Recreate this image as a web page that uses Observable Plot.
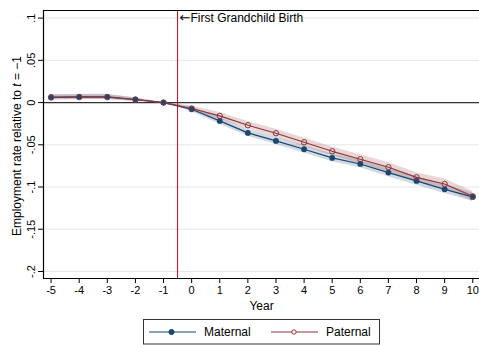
<!DOCTYPE html>
<html>
<head>
<meta charset="utf-8">
<script src="https://cdn.jsdelivr.net/npm/d3@7"></script>
<script src="https://cdn.jsdelivr.net/npm/@observablehq/plot@0.6"></script>
<style>
  body { margin: 0; background: #fff; font-family: "Liberation Sans", Arial, sans-serif; }
  #chart { width: 479px; height: 345px; }
  #chart svg { display: block; }
</style>
</head>
<body>
<div id="chart"></div>
<script>
// Event-study estimates: employment rate relative to t = -1, by grandparent line
const years = [-5, -4, -3, -2, -1, 0, 1, 2, 3, 4, 5, 6, 7, 8, 9, 10];
const maternal = [0.0064, 0.0068, 0.0068, 0.0036, 0, -0.0079, -0.0217, -0.0359, -0.0454, -0.0553, -0.0655, -0.0727, -0.0829, -0.0928, -0.1027, -0.1117];
const paternal = [0.0060, 0.0064, 0.0064, 0.0034, 0, -0.0070, -0.0158, -0.0269, -0.0363, -0.0470, -0.0577, -0.0671, -0.0766, -0.0885, -0.0964, -0.1110];
// 95% confidence interval half-widths
const maternalCI = [0.003, 0.003, 0.003, 0.002, 0, 0.003, 0.004, 0.004, 0.0042, 0.0045, 0.0045, 0.0045, 0.0048, 0.005, 0.005, 0.005];
const paternalCI = [0.003, 0.003, 0.003, 0.002, 0, 0.003, 0.004, 0.0045, 0.0048, 0.005, 0.005, 0.0052, 0.0055, 0.0055, 0.0058, 0.006];

const seriesNames = ["Maternal", "Paternal"];
const seriesColors = ["#1a476f", "#90353b"];

const xTicks = [-5, -4, -3, -2, -1, 0, 1, 2, 3, 4, 5, 6, 7, 8, 9, 10];
const xTickLabels = ["-5", "-4", "-3", "-2", "-1", "0", "1", "2", "3", "4", "5", "6", "7", "8", "9", "10"];
const yTicks = [0.1, 0.05, 0, -0.05, -0.1, -0.15, -0.2];
const yTickLabels = [".1", ".05", "0", "-.05", "-.1", "-.15", "-.2"];

const eventYear = -0.5;
const eventArrow = "\u2190";
const eventLabel = "First Grandchild Birth";
const xTitle = "Year";

// Build the long-format table from the arrays
const series = [maternal, paternal];
const cis = [maternalCI, paternalCI];
const rows = seriesNames.flatMap((name, s) =>
  years.map((t, i) => ({
    series: name,
    year: t,
    b: series[s][i],
    lo: series[s][i] - cis[s][i],
    hi: series[s][i] + cis[s][i]
  }))
);

const xDomain = [-5.27, 10.24];
const yDomain = [-0.2083, 0.109];
const font = "'Liberation Sans', Arial, sans-serif";

const plot = Plot.plot({
  width: 479,
  height: 312,
  marginTop: 10,
  marginLeft: 43,
  marginRight: 0,
  marginBottom: 34,
  style: { fontFamily: font, fontSize: "11px", color: "#000", background: "#fff", overflow: "visible" },
  x: { domain: xDomain },
  y: { domain: yDomain },
  color: { domain: seriesNames, range: seriesColors },
  marks: [
    // horizontal grid
    Plot.ruleY(yTicks, { stroke: "#e6e6e6", strokeWidth: 1 }),
    // confidence bands
    Plot.areaY(rows, { x: "year", y1: "lo", y2: "hi", z: "series", fill: "series", fillOpacity: 0.2 }),
    // reference line at zero
    Plot.ruleY([0], { stroke: "#333", strokeWidth: 1.2 }),
    // event marker
    Plot.ruleX([eventYear], { stroke: "#d2001a", strokeWidth: 1 }),
    Plot.text([eventArrow + eventLabel], { x: eventYear, y: yTicks[0], text: d => d, textAnchor: "start", dx: 2, fontSize: 12, fill: "#000" }),
    // series lines and markers
    Plot.lineY(rows, { x: "year", y: "b", z: "series", stroke: "series", strokeWidth: 1.2 }),
    Plot.dot(rows.filter(d => d.series === "Maternal"), { x: "year", y: "b", r: 2.9, fill: "series", stroke: "none" }),
    Plot.dot(rows.filter(d => d.series === "Paternal"), { x: "year", y: "b", r: 2.7, fill: "none", stroke: "series", strokeWidth: 1 }),
    // axes
    Plot.axisX({ ticks: xTicks, tickFormat: d => xTickLabels[xTicks.indexOf(d)], tickSize: 5, tickPadding: 3, label: null, fontSize: 11 }),
    Plot.axisY({ ticks: yTicks, tickSize: 5, tickFormat: () => "", label: null }),
    Plot.text(yTicks, { y: d => d, text: (d, i) => yTickLabels[i], frameAnchor: "left", dx: -12, rotate: -90, textAnchor: "middle", fontSize: 11, fill: "#000" }),
    Plot.text([xTitle], { frameAnchor: "bottom", dy: 31, lineAnchor: "bottom", text: d => d, fontSize: 12, fill: "#000" }),
    // plot region border: left, bottom, top
    Plot.ruleX([xDomain[0]], { stroke: "#000", strokeWidth: 1.2 }),
    Plot.ruleY([yDomain[0]], { stroke: "#000", strokeWidth: 1.2 }),
    Plot.ruleY([yDomain[1]], { stroke: "#000", strokeWidth: 1.2 })
  ]
});

document.getElementById("chart").appendChild(plot);

const svg = d3.select(plot);

// draw the annotation arrow with a font that has a full-size glyph
svg.selectAll("text")
  .filter(function () { return this.textContent === eventArrow + eventLabel; })
  .each(function () {
    const t = d3.select(this);
    t.text(null);
    t.append("tspan")
      .style("font-family", "'DejaVu Sans', sans-serif")
      .style("font-size", "13px")
      .text(eventArrow);
    t.append("tspan").text(eventLabel);
  });

// y-axis title with italic t
const yTitle = svg.append("text")
  .attr("transform", "translate(17,146) rotate(-90)")
  .attr("text-anchor", "middle")
  .attr("dy", "0.35em")
  .attr("font-family", font)
  .attr("font-size", 12)
  .attr("fill", "#000");
yTitle.append("tspan").text("Employment rate relative to ");
yTitle.append("tspan").attr("font-style", "italic").text("t");
yTitle.append("tspan").text(" = \u22121");

// legend below the plot
const legend = d3.select("#chart").append("svg")
  .attr("width", 479)
  .attr("height", 33)
  .style("font-family", font);
legend.append("rect")
  .attr("x", 143.5).attr("y", 7.5).attr("width", 236).attr("height", 24.5)
  .attr("fill", "#fff").attr("stroke", "#333").attr("stroke-width", 1);
const keyX = [149, 271];
seriesNames.forEach((name, i) => {
  const g = legend.append("g").attr("transform", `translate(${keyX[i]},20)`);
  g.append("line").attr("x1", 0).attr("x2", 47).attr("y1", 0).attr("y2", 0)
    .attr("stroke", seriesColors[i]).attr("stroke-width", 1.2);
  g.append("circle").attr("cx", i === 0 ? 22.5 : 23).attr("cy", 0).attr("r", i === 0 ? 2.6 : 2.2)
    .attr("fill", i === 0 ? seriesColors[i] : "#fff")
    .attr("stroke", seriesColors[i]).attr("stroke-width", 1);
  g.append("text").attr("x", 55).attr("y", 0).attr("dy", "0.35em")
    .attr("font-size", 12).attr("fill", "#000").text(name);
});
</script>
</body>
</html>
